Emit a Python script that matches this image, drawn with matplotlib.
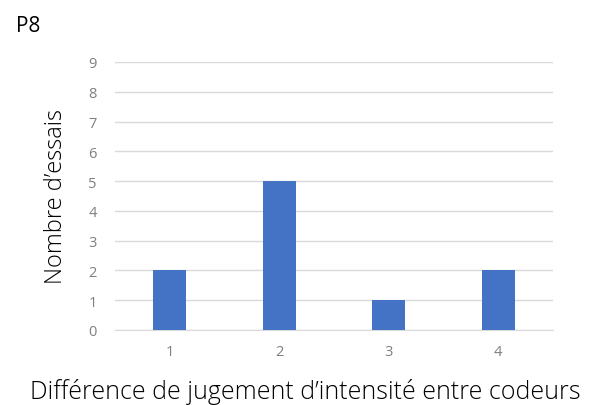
import matplotlib
matplotlib.use("Agg")
import matplotlib.pyplot as plt

categories = ["1", "2", "3", "4"]
values = [2, 5, 1, 2]
yticks = list(range(0, 10))

plt.rcParams['font.family'] = ['Open Sans', 'DejaVu Sans']

fig = plt.figure(figsize=(5.91, 4.06), dpi=100)
L, R, B, T = 115, 553, 331, 63
ax = fig.add_axes([L/591, 1-B/406, (R-L)/591, (B-T)/406])
x = list(range(len(categories)))
ax.bar(x, values, width=0.3, color='#4472C4', zorder=3)
ax.set_xlim(-0.5, len(categories)-0.5)
ax.set_ylim(0, 9)
ax.set_yticks(yticks)
ax.set_xticks(x)
ax.set_xticklabels(categories)
ax.yaxis.grid(True, color='#D9D9D9', linewidth=1, zorder=0)
for s in ['top', 'right', 'left']:
    ax.spines[s].set_visible(False)
ax.spines['bottom'].set_color('#D9D9D9')
ax.tick_params(axis='both', length=0, colors='#7F7F7F', labelsize=10.5)
ax.tick_params(axis='y', pad=13)
ax.tick_params(axis='x', pad=10)
ax.set_ylabel("Nombre d\u2019essais", fontsize=17, fontweight='light', color='black')
ax.yaxis.set_label_coords((68-L)/(R-L), 0.5)
ax.set_xlabel("Diff\u00e9rence de jugement d\u2019intensit\u00e9 entre codeurs", fontsize=18, fontweight='light', color='black')
ax.xaxis.set_label_coords(((28+583)/2-L)/(R-L), -(379-B)/(B-T))
fig.text(16/591, 1-26/406, "P8", fontsize=15, va='center', ha='left')
fig.savefig("out.png", dpi=100)
